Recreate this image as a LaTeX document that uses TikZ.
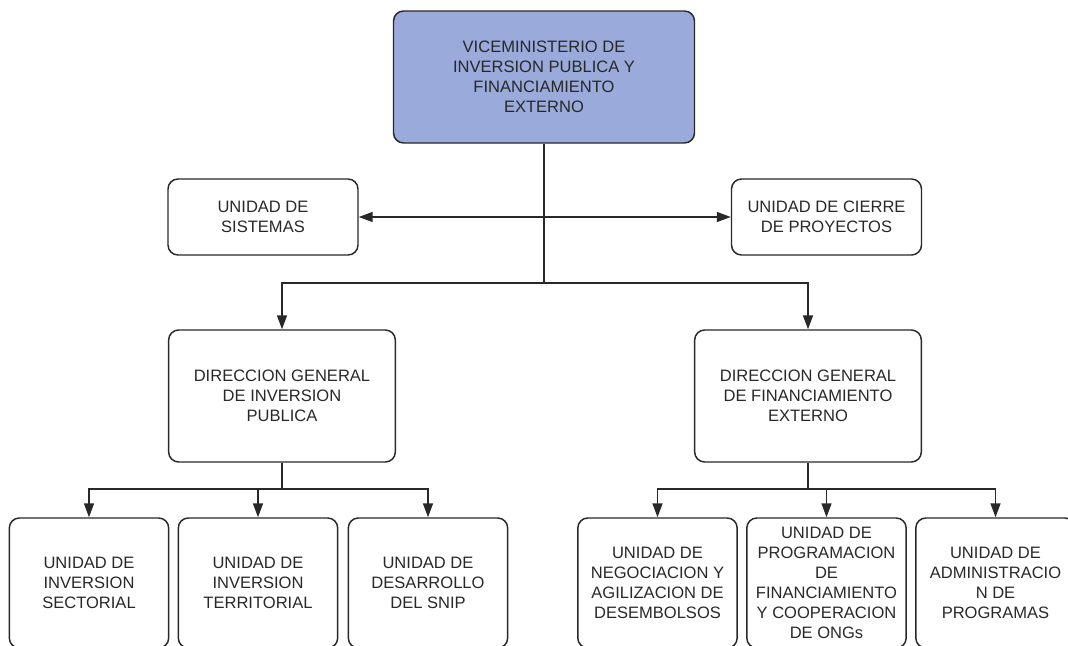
\documentclass[tikz,border=0pt]{standalone}
\usepackage{fontspec}
\setmainfont{Liberation Sans}
\usetikzlibrary{arrows.meta}
\definecolor{vicefill}{RGB}{154,170,218}
\definecolor{inkgray}{RGB}{40,40,40}
\tikzset{
  box/.style={draw=inkgray,line width=1.1pt,rounded corners=7.5pt,align=center,
    text=inkgray,font=\fontsize{12.4}{15}\selectfont,inner sep=2pt},
  topbox/.style={box,fill=vicefill,minimum width=225.75pt,minimum height=99pt},
  sidebox/.style={box,minimum width=142.5pt,minimum height=57pt},
  dirbox/.style={box,minimum width=170pt,minimum height=99pt},
  unitbox/.style={box,minimum width=119.5pt,minimum height=97.5pt},
  link/.style={draw=inkgray,line width=1.15pt}
}
\begin{document}
\begin{tikzpicture}[x=0.75pt,y=-0.75pt,>={Triangle[length=10.5pt,width=7.5pt]}]
  \path[use as bounding box] (0,0) rectangle (1068,646);
  \clip (0,0) rectangle (1068,646);
  % top
  \node[topbox] (vice) at (544,77) {VICEMINISTERIO DE\\INVERSION PUBLICA Y\\FINANCIAMIENTO\\EXTERNO};
  \node[sidebox] (sistemas) at (263,217) {UNIDAD DE\\SISTEMAS};
  \node[sidebox] (cierre) at (826.5,217) {UNIDAD DE CIERRE\\DE PROYECTOS};
  % direcciones generales
  \node[dirbox] (dgip) at (282,396) {DIRECCION GENERAL\\DE INVERSION\\PUBLICA};
  \node[dirbox] (dgfe) at (808,396) {DIRECCION GENERAL\\DE FINANCIAMIENTO\\EXTERNO};
  % unidades
  \node[unitbox] (uis) at (89,583) {UNIDAD DE\\INVERSION\\SECTORIAL};
  \node[unitbox] (uit) at (258,583) {UNIDAD DE\\INVERSION\\TERRITORIAL};
  \node[unitbox] (uds) at (428,583) {UNIDAD DE\\DESARROLLO\\DEL SNIP};
  \node[unitbox] (unad) at (657.5,583) {UNIDAD DE\\NEGOCIACION Y\\AGILIZACION DE\\DESEMBOLSOS};
  \node[unitbox] (upfc) at (826.5,583) {UNIDAD DE\\PROGRAMACION\\DE\\FINANCIAMIENTO\\Y COOPERACION\\DE ONGs};
  \node[unitbox] (uap) at (995.5,583) {UNIDAD DE\\ADMINISTRACIO\\N DE\\PROGRAMAS};
  % connectors
  \coordinate (split) at (544,283);
  \coordinate (splitl) at (282,489);
  \coordinate (splitr) at (808,489);
  \draw[link] (vice.south) -- (split);
  \draw[link,<->] (sistemas) -- (cierre);
  \draw[link,->] (split) -| (dgip.north);
  \draw[link,->] (split) -| (dgfe.north);
  \draw[link] (dgip.south) -- (splitl);
  \draw[link,->] (splitl) -| (uis.north);
  \draw[link,->] (splitl) -| (uit.north);
  \draw[link,->] (splitl) -| (uds.north);
  \draw[link] (dgfe.south) -- (splitr);
  \draw[link,->] (splitr) -| (unad.north);
  \draw[link,->] (splitr) -| (upfc.north);
  \draw[link,->] (splitr) -| (uap.north);
\end{tikzpicture}
\end{document}
